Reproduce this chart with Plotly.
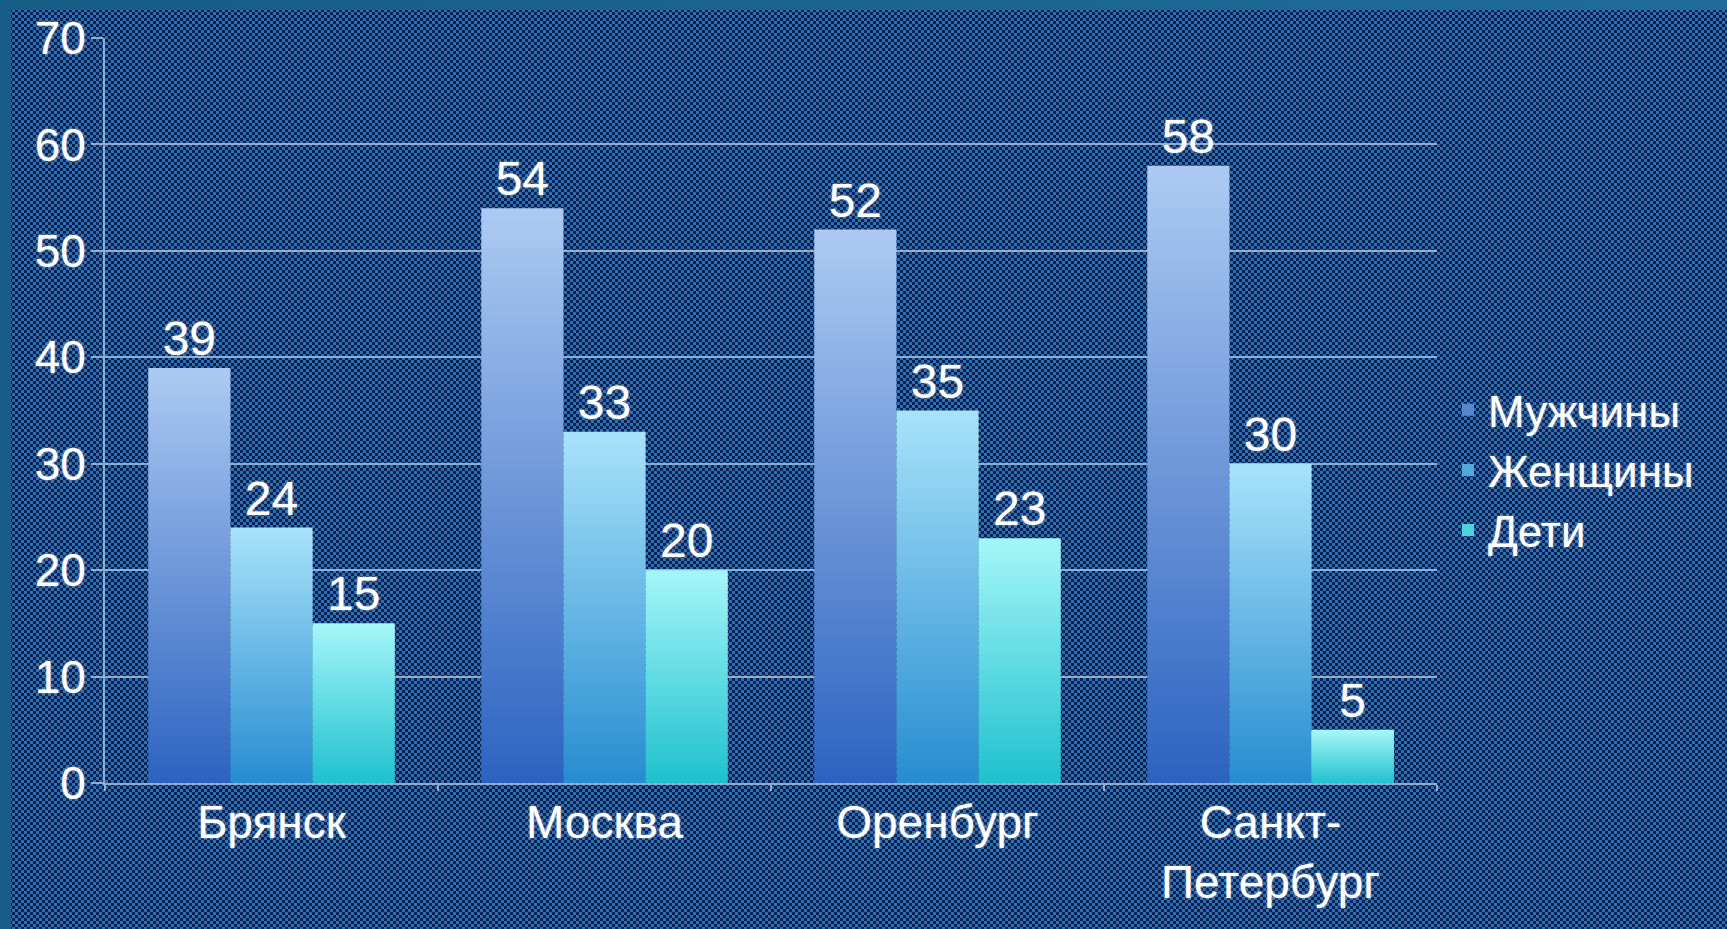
import base64
import plotly.graph_objects as go

# ---- data ----
cities = ["Брянск", "Москва", "Оренбург", "Санкт-<br>Петербург"]
series_names = ["Мужчины", "Женщины", "Дети"]
men = [39, 54, 52, 58]
women = [24, 33, 35, 30]
children = [15, 20, 23, 5]
y_ticks = [0, 10, 20, 30, 40, 50, 60, 70]

# ---- styling ----
W, H = 1727, 929
ML, MR, MT, MB = 105, 290, 38, 146
PW, PH = W - ML - MR, H - MT - MB

# gradient (top colour, bottom colour) for each series
grad = [((172, 202, 242), (44, 98, 192)),
        ((168, 226, 250), (38, 140, 208)),
        ((164, 246, 248), (30, 192, 206))]
N_SEG = 60
OVERLAP = 0.15  # data units, hides anti-aliasing seams between gradient slices
FONT = "Liberation Sans, Arial, sans-serif"
TXT = "#ffffff"
GRID = "rgba(175,198,228,0.8)"
shadow = "0px 0px 3px rgba(255,255,255,0.5)"


def mix(c_top, c_bot, t):
    # t=0 bottom, t=1 top
    return "rgb(%d,%d,%d)" % tuple(round(b + (a - b) * t) for a, b in zip(c_top, c_bot))


fig = go.Figure()
for s, (name, vals) in enumerate(zip(series_names, [men, women, children])):
    ctop, cbot = grad[s]
    for k in range(N_SEG):
        t = (k + 0.5) / N_SEG
        last = k == N_SEG - 1
        ov = OVERLAP if k > 0 else 0.0
        fig.add_trace(go.Bar(
            x=cities,
            y=[v / N_SEG + ov for v in vals],
            base=[v * k / N_SEG - ov for v in vals],
            offsetgroup=str(s),
            name=name,
            legendgroup=name,
            showlegend=(k == N_SEG // 3),
            marker=dict(color=mix(ctop, cbot, t), line=dict(width=0)),
            text=[str(v) for v in vals] if last else None,
            textposition="outside" if last else "none",
            textfont=dict(family=FONT, size=48, color=TXT, shadow=shadow),
            constraintext="none",
            cliponaxis=False,
            hoverinfo="skip",
        ))

# background: checkerboard with a teal frame on top/left
svg = f'''<svg xmlns="http://www.w3.org/2000/svg" width="{W}" height="{H}">
<defs><pattern id="p" width="6" height="6" patternUnits="userSpaceOnUse">
<rect width="6" height="6" fill="#2c70b4"/>
<rect width="3" height="3" fill="#0b2152"/>
<rect x="3" y="3" width="3" height="3" fill="#0b2152"/>
</pattern>
<linearGradient id="g" x1="0" x2="1" y1="0" y2="0"><stop offset="0" stop-color="#185c88"/><stop offset="1" stop-color="#1f6c98"/></linearGradient>
</defs>
<rect width="{W}" height="{H}" fill="url(#p)"/>
<rect width="{W}" height="10" fill="url(#g)"/>
<rect width="11" height="{H}" fill="#185c88"/>
</svg>'''
src = "data:image/svg+xml;base64," + base64.b64encode(svg.encode()).decode()

fig.update_layout(
    width=W, height=H,
    margin=dict(l=ML, r=MR, t=MT, b=MB, autoexpand=False),
    paper_bgcolor="#1a4178",
    plot_bgcolor="rgba(0,0,0,0)",
    barmode="group",
    bargap=0.26,
    bargroupgap=0,
    font=dict(family=FONT, color=TXT, size=46, shadow=shadow),
    images=[dict(source=src, xref="paper", yref="paper",
                 x=-ML / PW, y=1 + MT / PH, sizex=W / PW, sizey=H / PH,
                 xanchor="left", yanchor="top", sizing="stretch", layer="below")],
    legend=dict(x=(1448 - ML) / PW, xanchor="left", y=0.42, yanchor="middle",
                font=dict(family=FONT, size=44, color=TXT, shadow=shadow),
                bgcolor="rgba(0,0,0,0)", tracegroupgap=0, itemwidth=30),
    showlegend=True,
)
fig.update_xaxes(
    showline=True, linecolor=GRID, linewidth=2,
    ticks="outside", tickson="boundaries", ticklen=6, tickcolor=GRID, tickwidth=2,
    showgrid=False, tickfont=dict(family=FONT, size=46, color=TXT, shadow=shadow),
    ticklabelstandoff=-2,
    automargin=False,
)
fig.update_yaxes(
    range=[0, 70], tickvals=y_ticks, ticktext=[str(v) for v in y_ticks],
    showline=True, linecolor=GRID, linewidth=2,
    ticks="outside", ticklen=12, tickcolor=GRID, tickwidth=2,
    showgrid=True, gridcolor=GRID, gridwidth=2, zeroline=False,
    tickfont=dict(family=FONT, size=46, color=TXT, shadow=shadow),
    ticklabelstandoff=-4,
    automargin=False,
)

fig.write_html(
    "out.html",
    config={"displayModeBar": False},
    post_script="document.body.style.margin='0';document.body.style.overflow='hidden';",
)
